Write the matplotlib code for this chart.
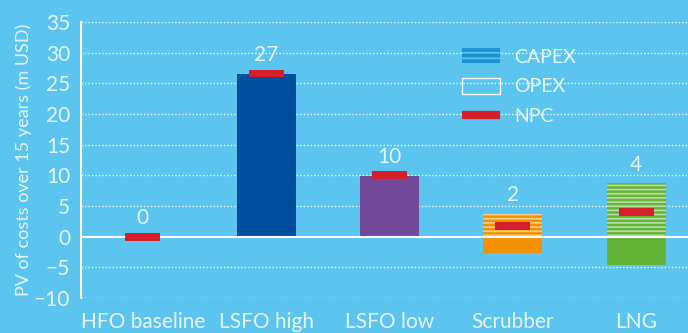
import numpy as np
import matplotlib.pyplot as plt
from matplotlib.patches import Patch
from matplotlib.lines import Line2D

categories = ['HFO baseline', 'LSFO high', 'LSFO low', 'Scrubber', 'LNG']
capex = [0, 0, 0, 3.85, 8.75]
opex = [0, 26.6, 9.95, -2.6, -4.6]
npc = [0, 26.6, 10.0, 1.8, 4.1]
npc_labels = ['0', '27', '10', '2', '4']
colors = ['#5BC5F0', '#004F9F', '#714B9A', '#F39200', '#65B43A']

bg = '#5BC5F0'
txt = '#E6F4FC'
red = '#D51F2A'

plt.rcParams['font.family'] = ['Lato', 'DejaVu Sans']
plt.rcParams['hatch.linewidth'] = 1.2

fig = plt.figure(figsize=(6.88, 3.33), dpi=100, facecolor=bg)
ax = fig.add_axes([0.118, 0.105, 0.882, 0.829], facecolor=bg)

x = np.arange(len(categories))
w = 0.48

# grid lines
for v in range(-10, 40, 5):
    if v == 0:
        continue
    ax.axhline(v, color='white', lw=1, ls=(0, (1, 1.5)), alpha=0.9, zorder=1)
ax.axhline(0, color='white', lw=1.5, zorder=4)

# OPEX (solid) and CAPEX (striped)
ax.bar(x, opex, width=w, color=colors, zorder=2, lw=0)
ax.bar(x, capex, width=w, color=colors, zorder=2, lw=0,
       edgecolor=(1, 1, 1, 0.55), hatch='----')

# NPC markers
ax.bar(x, 1.3, bottom=np.array(npc) - 0.65, width=0.285, color=red, zorder=5, lw=0)

tops = np.maximum(np.array(opex), 0) + np.array(capex)
for xi, t, lab in zip(x, tops, npc_labels):
    ax.annotate(lab, (xi, t), xytext=(0, 6), textcoords='offset points',
                ha='center', va='bottom', color=txt, fontsize=15)

ax.set_xlim(-0.5, 4.42)
ax.set_ylim(-10, 35)
ax.set_yticks(range(-10, 40, 5))
ax.set_xticks(x)
ax.set_xticklabels(categories)
ax.tick_params(length=0, colors=txt, labelsize=15)
ax.tick_params(axis='x', pad=10)
ax.tick_params(axis='y', pad=8)
for s in ['top', 'right', 'bottom']:
    ax.spines[s].set_visible(False)
ax.spines['left'].set_color('white')
ax.spines['left'].set_linewidth(1.5)
ax.set_ylabel('PV of costs over 15 years (m USD)', color=txt, fontsize=13, labelpad=1)

handles = [
    Patch(facecolor='#1C92D2', edgecolor=bg, hatch='---', lw=0, label='CAPEX'),
    Patch(facecolor='none', edgecolor='white', lw=1, label='OPEX'),
    Line2D([0], [0], color=red, lw=6, solid_capstyle='butt', label='NPC'),
]
leg = ax.legend(handles=handles, loc='upper left', bbox_to_anchor=(0.598, 0.97),
                frameon=False, labelcolor=txt, fontsize=14, handlelength=2.0,
                handleheight=0.9, labelspacing=0.62, handletextpad=0.7)

fig.savefig('out.png', dpi=100, facecolor=bg)
